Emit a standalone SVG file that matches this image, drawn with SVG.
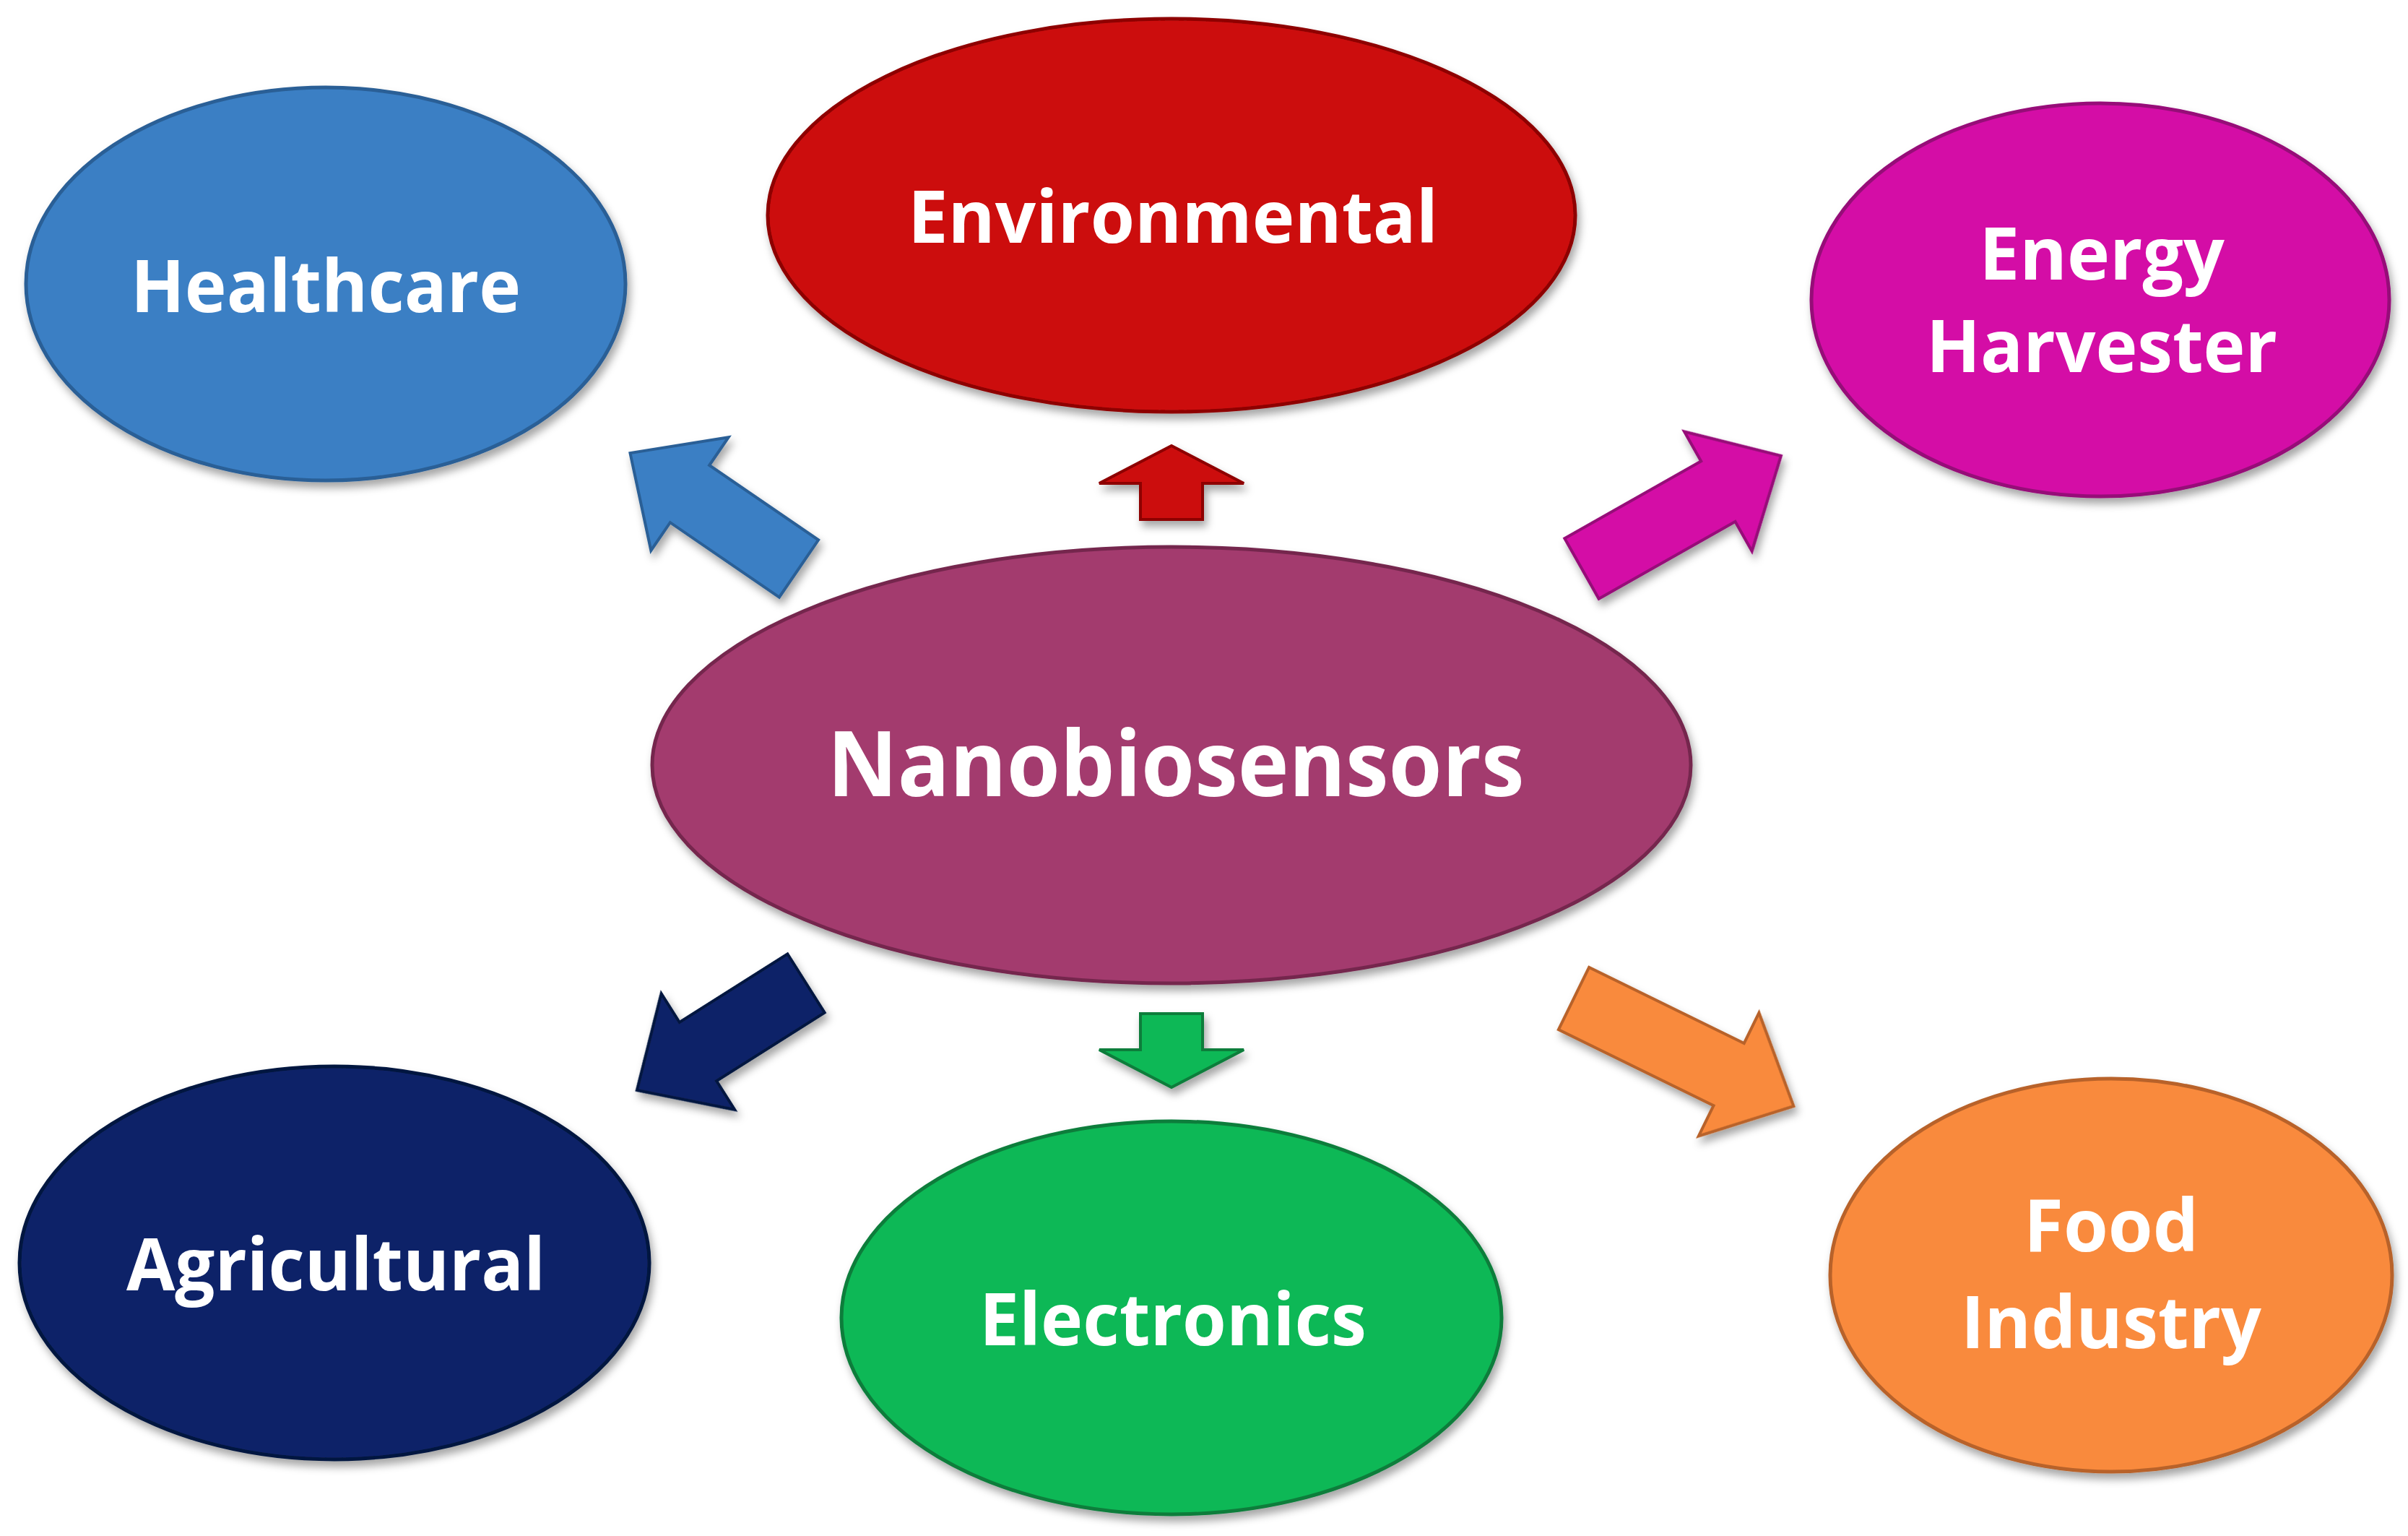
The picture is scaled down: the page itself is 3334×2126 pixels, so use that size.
<svg xmlns="http://www.w3.org/2000/svg" width="3334" height="2126" viewBox="0 0 3334 2126">
<style>
.t{font-family:"Open Sans","Noto Sans","DejaVu Sans",sans-serif;font-weight:bold;fill:#fff;text-anchor:middle}
.n{stroke-width:5}
</style>
<defs>
<filter id="sh" x="-10%" y="-10%" width="120%" height="125%"><feDropShadow dx="4" dy="8" stdDeviation="6" flood-opacity="0.35"/></filter>
</defs>
<rect width="3334" height="2126" fill="#fff"/>
<g id="connectors" filter="url(#sh)" stroke-width="4">
<polygon transform="translate(1106,787) rotate(214.4)" points="0,-48 183,-48 183,-95 283,0 183,95 183,48 0,48" fill="#3a7fc4" stroke="#2a5f96"/>
<polygon transform="translate(1622,719) rotate(-90)" points="0,-43 50,-43 50,-100 102,0 50,100 50,43 0,43" fill="#cc0a0a" stroke="#8e0606"/>
<polygon transform="translate(2190,787) rotate(-29.5)" points="0,-48 217,-48 217,-95 317,0 217,95 217,48 0,48" fill="#d40ca6" stroke="#960878"/>
<polygon transform="translate(1116,1361) rotate(147.7)" points="0,-48 177,-48 177,-95 277,0 177,95 177,48 0,48" fill="#0b2468" stroke="#06173f"/>
<polygon transform="translate(1622,1403) rotate(90)" points="0,-43 50,-43 50,-100 102,0 50,100 50,43 0,43" fill="#10b857" stroke="#0a7d3b"/>
<polygon transform="translate(2179,1382) rotate(26.1)" points="0,-48 239,-48 239,-95 339,0 239,95 239,48 0,48" fill="#f98a3c" stroke="#b8622a"/>
</g>
<g id="healthcare"><ellipse class="n" cx="451" cy="393" rx="415" ry="272" fill="#3a7fc4" stroke="#2a5f96" filter="url(#sh)"/><text class="t" x="451" y="432" font-size="100" textLength="540" lengthAdjust="spacingAndGlyphs">Healthcare</text></g>
<g id="environmental"><ellipse class="n" cx="1622" cy="298" rx="559" ry="272" fill="#cc0a0a" stroke="#8e0606" filter="url(#sh)"/><text class="t" x="1624" y="336" font-size="100" textLength="734" lengthAdjust="spacingAndGlyphs">Environmental</text></g>
<g id="energy"><ellipse class="n" cx="2908" cy="415" rx="400" ry="272" fill="#d40ca6" stroke="#960878" filter="url(#sh)"/><text class="t" x="2910" y="387" font-size="100">Energy</text><text class="t" x="2910" y="515" font-size="100" textLength="486" lengthAdjust="spacingAndGlyphs">Harvester</text></g>
<g id="nanobiosensors"><ellipse class="n" cx="1622" cy="1059" rx="719" ry="302" fill="#a33a6e" stroke="#74284e" filter="url(#sh)"/><text class="t" x="1628" y="1102" font-size="126" textLength="965" lengthAdjust="spacingAndGlyphs">Nanobiosensors</text></g>
<g id="agricultural"><ellipse class="n" cx="463" cy="1748" rx="436" ry="272" fill="#0b2468" stroke="#06173f" filter="url(#sh)"/><text class="t" x="465" y="1786" font-size="100" textLength="580" lengthAdjust="spacingAndGlyphs">Agricultural</text></g>
<g id="electronics"><ellipse class="n" cx="1622" cy="1824" rx="457" ry="272" fill="#10b857" stroke="#0a7d3b" filter="url(#sh)"/><text class="t" x="1624" y="1862" font-size="100" textLength="536" lengthAdjust="spacingAndGlyphs">Electronics</text></g>
<g id="food"><ellipse class="n" cx="2923" cy="1765" rx="389" ry="272" fill="#f98a3c" stroke="#b8622a" filter="url(#sh)"/><text class="t" x="2923" y="1732" font-size="100">Food</text><text class="t" x="2923" y="1866" font-size="100" textLength="416" lengthAdjust="spacingAndGlyphs">Industry</text></g>
</svg>
